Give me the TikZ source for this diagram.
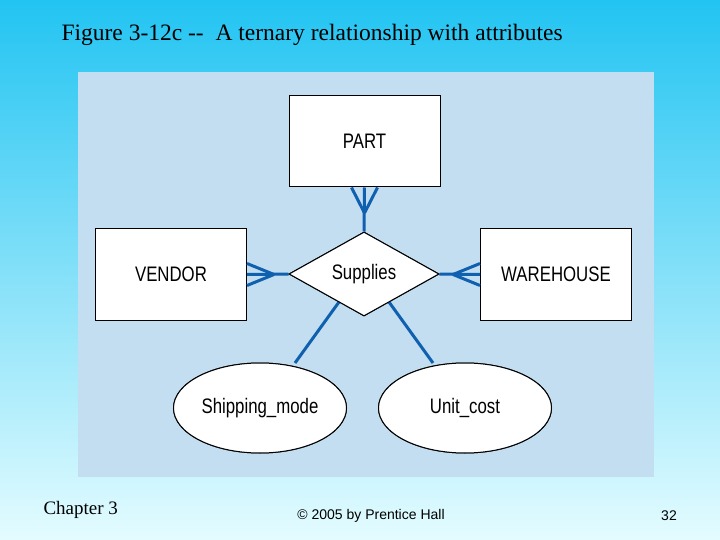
\documentclass[tikz,border=0pt]{standalone}
\usepackage{fontspec}
\setmainfont{Liberation Serif}
\setsansfont{Liberation Sans}
\usetikzlibrary{shapes.geometric}
\definecolor{bgtop}{HTML}{22C4F2}
\definecolor{bgbot}{HTML}{E4FCFF}
\definecolor{panel}{HTML}{C2DEF0}
\definecolor{edge}{HTML}{1060B0}
\begin{document}
\begin{tikzpicture}[x=1pt,y=-1pt,
  lab/.style={font=\sffamily\fontsize{21}{21}\selectfont},
  ent/.style={lab,draw=black,fill=white,line width=1pt,minimum width=151pt,minimum height=91pt,inner sep=0pt},
  rel/.style={lab,diamond,aspect=1.78,draw=black,fill=white,line width=1pt,minimum width=150pt,minimum height=84pt,inner sep=0pt},
  att/.style={lab,ellipse,draw=black,fill=white,line width=1pt,minimum width=173pt,minimum height=90pt,inner sep=0pt},
  con/.style={draw=edge,line width=3pt}]
\shade[top color=bgtop,bottom color=bgbot] (0,0) rectangle (720,540);
\useasboundingbox (0,0) rectangle (720,540);
\fill[panel] (78,72) rectangle (654,477);
\node[anchor=west,font=\fontsize{23.5}{23.5}\selectfont] (title) at (58,35) {Figure 3-12c -{}-\ \ A ternary relationship with attributes};
\node[anchor=west,font=\fontsize{19}{19}\selectfont] (ch) at (40,510) {Chapter 3};
\node[font=\sffamily\fontsize{14}{14}\selectfont] (ph) at (371,516) {© 2005 by Prentice Hall};
\node[font=\sffamily\fontsize{14}{14}\selectfont] (pg) at (669,516) {32};
\node[ent] (part) at (364.5,141.5) {\scalebox{0.8}[1]{PART}};
\node[ent] (vendor) at (171,274.5) {\scalebox{0.8}[1]{VENDOR}};
\node[ent] (wh) at (556,274.5) {\scalebox{0.8}[1]{WAREHOUSE}};
\node[rel] (sup) at (364,274) {};
\node[att] (ship) at (260,408) {};
\node[att] (unit) at (465,408) {};
\coordinate (pf) at (364.5,213);
\coordinate (vf) at (274,274.5);
\coordinate (wf) at (453,274.5);
\coordinate (sa) at (339,302);
\coordinate (sb) at (295,363);
\coordinate (ua) at (389,302);
\coordinate (ub) at (433,363);
\draw[con] (sup.north) -- (part.south);
\draw[con] (pf) -- ([xshift=-13pt]part.south) (pf) -- ([xshift=13pt]part.south);
\draw[con] (sup.west) -- (vendor.east);
\draw[con] (vf) -- ([yshift=-11pt]vendor.east) (vf) -- ([yshift=11pt]vendor.east);
\draw[con] (sup.east) -- (wh.west);
\draw[con] (wf) -- ([yshift=-11pt]wh.west) (wf) -- ([yshift=11pt]wh.west);
\draw[con] (sa) -- (sb);
\draw[con] (ua) -- (ub);
\node[rel] (supl) at (sup) {\raisebox{-2pt}{\scalebox{0.8}[1]{Supplies}}};
\node[att] (shipl) at (ship) {\scalebox{0.8}[1]{Shipping\_mode}};
\node[att] (unitl) at (unit) {\scalebox{0.8}[1]{Unit\_cost}};
\end{tikzpicture}
\end{document}
